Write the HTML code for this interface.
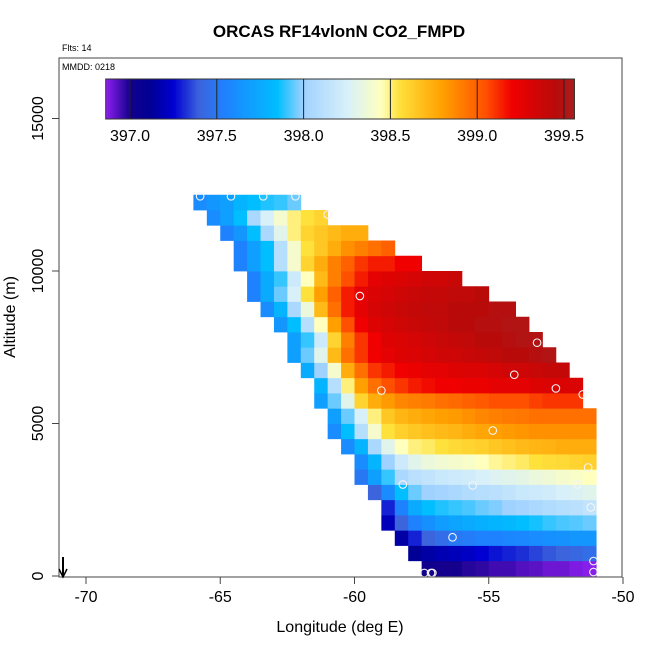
<!DOCTYPE html>
<html><head><meta charset="utf-8"><style>
html,body{margin:0;padding:0;background:#fff;}
svg text{font-family:"Liberation Sans",Arial,sans-serif;}
</style></head><body>
<svg id="chart" width="650" height="650" viewBox="0 0 650 650" xmlns="http://www.w3.org/2000/svg">
<text x="339" y="37" text-anchor="middle" font-size="17" font-weight="bold">ORCAS RF14vlonN CO2_FMPD</text>
<text x="62" y="51" font-size="9">Flts: 14</text>
<g id="cells"></g>
<g id="pts"></g>
<rect x="59" y="58" width="563" height="519" fill="none" stroke="#444" stroke-width="1"/>
<text x="62" y="70" font-size="9">MMDD: 0218</text>
<g id="cbar"></g>
<g id="axes"></g>
<text x="340" y="632" text-anchor="middle" font-size="16">Longitude (deg E)</text>
<text transform="translate(15,317) rotate(-90)" text-anchor="middle" font-size="16">Altitude (m)</text>
<g>
<line x1="63" y1="557" x2="63" y2="576" stroke="#000" stroke-width="2"/>
<polyline points="59,569 63,577 67,569" fill="none" stroke="#000" stroke-width="1.5"/>
</g>
</svg>
<script>
// ---- data ----
const lonStart = -66, lonStep = 0.5;
const altStep = 500;
const rowStarts = [17,16,15,14,14,13,12,12,11,10,10,9,9,8,7,7,6,5,4,4,3,3,2,1,0];
const row0 = [397.02,397.0,397.0,396.98,396.97,396.95,396.95,396.93,396.92,396.9,396.9,396.88,396.87];
const row1 = [397.12,397.15,397.18,397.2,397.22,397.25,397.28,397.3,397.32,397.35,397.38,397.4,397.42,397.45];
const row2 = [397.15,397.3,397.4,397.45,397.5,397.52,397.55,397.55,397.57,397.58,397.6,397.62,397.63,397.65,397.65];
const row3 = [397.2,397.4,397.55,397.62,397.68,397.72,397.75,397.78,397.8,397.82,397.85,397.87,397.9,397.92,397.93,397.95];
const row4 = [397.3,397.55,397.75,397.85,397.88,397.9,397.92,397.95,397.97,398.0,398.02,398.05,398.08,398.1,398.12,398.15];
const row5 = [397.4,397.6,397.85,397.95,398.0,398.02,398.05,398.08,398.1,398.12,398.15,398.18,398.2,398.22,398.25,398.27,398.3];
const row6 = [397.5,397.7,397.9,398.05,398.12,398.15,398.18,398.2,398.22,398.25,398.28,398.3,398.32,398.35,398.37,398.4,398.42,398.45];
const row7 = [397.6,397.8,398.0,398.2,398.3,398.35,398.38,398.4,398.42,398.45,398.48,398.5,398.52,398.55,398.57,398.58,398.6,398.62];
const row8 = [397.6,397.8,398.05,398.3,398.45,398.5,398.52,398.55,398.58,398.6,398.62,398.65,398.68,398.7,398.72,398.73,398.75,398.75,398.75];
const row9 = [397.6,397.85,398.1,398.4,398.55,398.62,398.65,398.68,398.7,398.72,398.75,398.78,398.8,398.82,398.83,398.85,398.85,398.85,398.85,398.85];
const row10 = [397.7,397.95,398.25,398.5,398.65,398.72,398.75,398.78,398.8,398.82,398.85,398.88,398.9,398.92,398.93,398.95,398.95,398.95,398.95,398.95];
const row11 = [397.7,397.95,398.3,398.6,398.75,398.82,398.88,398.9,398.92,398.95,398.97,399.0,399.02,399.05,399.05,399.05,399.08,399.1,399.1,399.1];
const row12 = [397.8,398.1,398.5,398.8,398.95,399.05,399.1,399.15,399.18,399.2,399.2,399.22,399.22,399.25,399.25,399.25,399.28,399.3,399.3,399.3];
const row13 = [397.75,398.0,398.4,398.75,398.95,399.1,399.15,399.2,399.22,399.25,399.25,399.28,399.3,399.3,399.32,399.35,399.35,399.38,399.4,399.4];
const row14 = [397.7,397.95,398.3,398.7,398.95,399.1,399.2,399.25,399.28,399.3,399.32,399.35,399.35,399.38,399.4,399.42,399.45,399.45,399.48,399.5];
const row15 = [397.7,397.9,398.2,398.6,398.9,399.1,399.2,399.28,399.3,399.32,399.35,399.38,399.4,399.42,399.45,399.45,399.48,399.5,399.5];
const row16 = [397.65,397.85,398.1,398.45,398.8,399.05,399.2,399.28,399.32,399.35,399.38,399.4,399.42,399.45,399.45,399.48,399.48,399.5,399.5];
const row17 = [397.6,397.8,398.05,398.35,398.7,398.95,399.15,399.25,399.32,399.35,399.38,399.4,399.42,399.42,399.45,399.45,399.45,399.48,399.48];
const row18 = [397.55,397.75,397.95,398.25,398.55,398.8,399.0,399.15,399.25,399.3,399.32,399.35,399.38,399.4,399.4,399.42,399.42,399.45];
const row19 = [397.55,397.75,397.9,398.2,398.45,398.7,398.9,399.05,399.15,399.25,399.28,399.3,399.32,399.35,399.35,399.38];
const row20 = [397.55,397.7,397.85,398.1,398.4,398.6,398.75,398.9,399.0,399.1,399.15,399.15,399.2,399.2];
const row21 = [397.55,397.7,397.85,398.1,398.4,398.55,398.65,398.75,398.85,398.9,398.95,399.0];
const row22 = [397.55,397.65,397.85,398.05,398.3,398.5,398.6,398.65,398.7,398.75,398.75];
const row23 = [397.6,397.7,397.85,398.05,398.25,398.4,398.5,398.55,398.6];
const row24 = [397.6,397.65,397.7,397.8,397.85,397.88,397.9,397.95];
const rows = [row0,row1,row2,row3,row4,row5,row6,row7,row8,row9,row10,row11,row12,row13,row14,row15,row16,row17,row18,row19,row20,row21,row22,row23,row24];
const pointLon = [-65.75,-64.6,-63.4,-62.2,-61.0,-59.8,-53.2,-54.05,-52.5,-51.5,-59.0,-54.85,-51.3,-58.2,-55.6,-51.7,-51.2,-56.35,-51.1,-51.1,-57.4,-57.15,-57.1];
const pointAlt = [12450,12450,12450,12450,11850,9180,7650,6600,6150,5950,6080,4770,3560,3000,2970,3000,2250,1270,490,130,100,100,100];
const xTicks = [-70,-65,-60,-55,-50];
const xTickLabels = ["-70","-65","-60","-55","-50"];
const yTicks = [0,5000,10000,15000];
const yTickLabels = ["0","5000","10000","15000"];
const cbTicks = [397.0,397.5,398.0,398.5,399.0,399.5];
const cbTickLabels = ["397.0","397.5","398.0","398.5","399.0","399.5"];
const cbMin = 396.86, cbMax = 399.56;

// ---- scales ----
const xS = lon => 86 + (lon + 70) * 26.85;
const yS = alt => 576 - alt * 0.0305;
const cbX = v => 130 + (v - 397.0) * 173.6;

const stops = [[396.86,[144,32,240]],[397.0,[20,0,140]],[397.12,[0,0,150]],[397.25,[0,0,210]],[397.4,[60,100,220]],[397.55,[30,130,255]],[397.85,[0,190,255]],[398.0,[160,210,255]],[398.25,[215,240,250]],[398.45,[255,255,190]],[398.55,[255,225,60]],[398.8,[255,160,0]],[399.05,[255,80,0]],[399.2,[240,0,0]],[399.45,[185,10,10]],[399.56,[170,30,30]]];
function col(v){
  if(v<=stops[0][0]) return 'rgb('+stops[0][1]+')';
  for(let i=1;i<stops.length;i++){
    if(v<=stops[i][0]){
      const a=stops[i-1],b=stops[i],t=(v-a[0])/(b[0]-a[0]);
      return 'rgb('+a[1].map((c,k)=>Math.round(c+(b[1][k]-c)*t)).join(',')+')';
    }
  }
  return 'rgb('+stops[stops.length-1][1]+')';
}
const NS='http://www.w3.org/2000/svg';
function mk(tag,attrs,parent){const e=document.createElementNS(NS,tag);for(const k in attrs)e.setAttribute(k,attrs[k]);parent.appendChild(e);return e;}

// heatmap
const cells=document.getElementById('cells');
rows.forEach((vals,r)=>{
  const a0=r*altStep,a1=a0+altStep;
  vals.forEach((v,j)=>{
    const i=rowStarts[r]+j;
    const l0=lonStart+i*lonStep,l1=l0+lonStep;
    const x0=xS(l0),x1=xS(l1),y0=yS(a1),y1=yS(a0);
    const rc=mk('rect',{x:x0.toFixed(2),y:y0.toFixed(2),width:(x1-x0+0.4).toFixed(2),height:(y1-y0+0.4).toFixed(2),fill:col(v)},cells);
    
    
  });
});
// points
const pts=document.getElementById('pts');
pointLon.forEach((lon,i)=>{
  const c=mk('circle',{cx:xS(lon),cy:yS(pointAlt[i]),r:3.8,fill:'none',stroke:'#f4f4f4','stroke-width':1.1},pts);
  
  
});
// axes
const ax=document.getElementById('axes');
xTicks.forEach((t,i)=>{
  const x=xS(t);
  const tl=mk('line',{x1:x,y1:577,x2:x,y2:584,stroke:'#444'},ax);
  
  
  const tx=mk('text',{x:x,y:602,'text-anchor':'middle','font-size':16},ax);
  tx.textContent=xTickLabels[i];
  
  
});
yTicks.forEach((t,i)=>{
  const y=yS(t);
  const tl=mk('line',{x1:52,y1:y,x2:59,y2:y,stroke:'#444'},ax);
  
  
  const tx=mk('text',{transform:'translate(43,'+y+') rotate(-90)','text-anchor':'middle','font-size':16},ax);
  tx.textContent=yTickLabels[i];
  
  
});
// colorbar
const cb=document.getElementById('cbar');
const n=200;
for(let k=0;k<n;k++){
  const v0=cbMin+(cbMax-cbMin)*k/n, v1=cbMin+(cbMax-cbMin)*(k+1)/n;
  const r=mk('rect',{x:cbX(v0),y:79,width:cbX(v1)-cbX(v0)+0.5,height:40,fill:col((v0+v1)/2)},cb);
  
  
}
const fr=mk('rect',{x:cbX(cbMin),y:79,width:cbX(cbMax)-cbX(cbMin),height:40,fill:'none',stroke:'#333'},cb);


cbTicks.forEach((t,i)=>{
  const x=cbX(t);
  const l=mk('line',{x1:x,y1:79,x2:x,y2:119,stroke:'#222'},cb);
  
  
  const tx=mk('text',{x:x,y:141,'text-anchor':'middle','font-size':16},cb);
  tx.textContent=cbTickLabels[i];
  
  
});
</script>
</body></html>
